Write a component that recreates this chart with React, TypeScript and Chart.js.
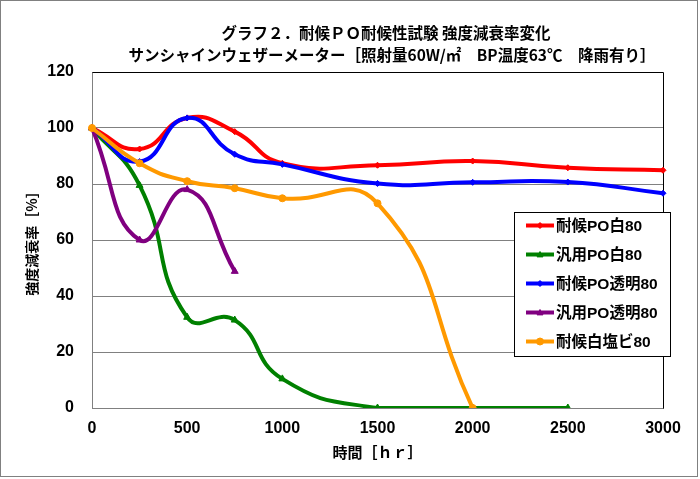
import React, { useEffect, useRef } from "react";
import { Chart, registerables } from "chart.js";

Chart.register(...registerables);

const titleLines = [
  "グラフ２．耐候ＰＯ耐候性試験 強度減衰率変化",
  "サンシャインウェザーメーター［照射量60W/㎡　BP温度63℃　降雨有り］",
];
const xAxisTitle = "時間［ｈｒ］";
const yAxisTitle = "強度減衰率［%］";

const seriesNames = ["耐候PO白80", "汎用PO白80", "耐候PO透明80", "汎用PO透明80", "耐候白塩ビ80"];
const seriesColors = ["#FF0000", "#008000", "#0000FF", "#800080", "#FF9900"];
const seriesMarkers = ["rectRot", "triangle", "rectRot", "triangle", "circle"];

const redHours = [0, 250, 500, 750, 1000, 1500, 2000, 2500, 3000];
const redValues = [100, 92.5, 103.6, 98.7, 87.4, 86.7, 88.2, 85.8, 84.9];
const greenHours = [0, 250, 500, 750, 1000, 1500, 2000, 2500];
const greenValues = [100, 79.5, 32.4, 31.4, 10.4, 0, 0, 0];
const blueHours = [0, 250, 500, 750, 1000, 1500, 2000, 2500, 3000];
const blueValues = [100, 88, 103.6, 90.6, 87, 80.2, 80.6, 80.7, 76.7];
const purpleHours = [0, 250, 500, 750];
const purpleValues = [100, 60, 78, 48.8];
const orangeHours = [0, 250, 500, 750, 1000, 1500, 2000];
const orangeValues = [100, 87.4, 81, 78.5, 74.9, 73.1, 0];

const xMin = 0;
const xMax = 3000;
const xStep = 500;
const yMin = 0;
const yMax = 120;
const yStep = 20;

const allHours = [redHours, greenHours, blueHours, purpleHours, orangeHours];
const allValues = [redValues, greenValues, blueValues, purpleValues, orangeValues];

const LATIN = "'Liberation Sans', 'Noto Sans CJK JP', sans-serif";
const CJK = "'Noto Sans CJK JP', sans-serif";

function drawMarker(ctx: CanvasRenderingContext2D, style: string, x: number, y: number, r: number, color: string) {
  ctx.save();
  ctx.fillStyle = color;
  ctx.strokeStyle = color;
  ctx.lineWidth = 1;
  ctx.beginPath();
  if (style === "circle") {
    ctx.arc(x, y, r, 0, Math.PI * 2);
  } else if (style === "triangle") {
    ctx.moveTo(x, y - r);
    ctx.lineTo(x + r, y + r * 0.8);
    ctx.lineTo(x - r, y + r * 0.8);
    ctx.closePath();
  } else {
    ctx.moveTo(x, y - r);
    ctx.lineTo(x + r, y);
    ctx.lineTo(x, y + r);
    ctx.lineTo(x - r, y);
    ctx.closePath();
  }
  ctx.fill();
  ctx.stroke();
  ctx.restore();
}

const decorPlugin = {
  id: "decor",
  beforeDraw(chart: any) {
    const { ctx, width, height } = chart;
    ctx.save();
    ctx.fillStyle = "#FFFFFF";
    ctx.fillRect(0, 0, width, height);
    ctx.strokeStyle = "#808080";
    ctx.lineWidth = 1;
    ctx.strokeRect(0.5, 0.5, width - 3, height - 3);
    ctx.fillStyle = "#000000";
    ctx.font = "bold 15.5px " + CJK;
    ctx.textAlign = "center";
    ctx.textBaseline = "middle";
    ctx.fillText(titleLines[0], 386, 33);
    ctx.fillText(titleLines[1], 392, 55);
    ctx.restore();
  },
  beforeDatasetsDraw(chart: any) {
    const { ctx, chartArea } = chart;
    ctx.save();
    ctx.strokeStyle = "#000000";
    ctx.lineWidth = 1;
    ctx.beginPath();
    ctx.moveTo(Math.round(chartArea.left) + 0.5, Math.round(chartArea.top) + 0.5);
    ctx.lineTo(Math.round(chartArea.right) + 0.5, Math.round(chartArea.top) + 0.5);
    ctx.lineTo(Math.round(chartArea.right) + 0.5, Math.round(chartArea.bottom) + 0.5);
    ctx.stroke();
    ctx.restore();
  },
  afterDraw(chart: any) {
    const { ctx } = chart;
    const bx = 514.5, by = 212.5, bw = 156, bh = 144;
    ctx.save();
    ctx.fillStyle = "#FFFFFF";
    ctx.fillRect(bx, by, bw, bh);
    ctx.strokeStyle = "#000000";
    ctx.lineWidth = 1;
    ctx.strokeRect(bx, by, bw, bh);
    seriesNames.forEach((name, i) => {
      const y = 225.5 + i * 29;
      ctx.strokeStyle = seriesColors[i];
      ctx.lineWidth = 4;
      ctx.beginPath();
      ctx.moveTo(526, y);
      ctx.lineTo(554, y);
      ctx.stroke();
      drawMarker(ctx, seriesMarkers[i], 540, y, seriesMarkers[i] === "circle" ? 3.5 : 3, seriesColors[i]);
      ctx.fillStyle = "#000000";
      ctx.font = "bold 15.5px " + LATIN;
      ctx.textAlign = "left";
      ctx.textBaseline = "middle";
      ctx.fillText(name, 556, y + 1);
    });
    ctx.restore();
  },
};

export default function App() {
  const ref = useRef<HTMLCanvasElement | null>(null);

  useEffect(() => {
    document.body.style.margin = "0";
    const canvas = ref.current;
    if (!canvas) return;
    const datasets = seriesNames.map((name, i) => ({
      label: name,
      data: allHours[i].map((h, j) => ({ x: h, y: allValues[i][j] })),
      borderColor: seriesColors[i],
      backgroundColor: seriesColors[i],
      borderWidth: 4,
      tension: 0.5,
      pointStyle: seriesMarkers[i] as any,
      pointRadius: seriesMarkers[i] === "circle" ? 3.5 : seriesMarkers[i] === "triangle" ? 4 : 3,
      pointBorderWidth: 1,
      pointBackgroundColor: seriesColors[i],
      pointBorderColor: seriesColors[i],
      fill: false,
      order: 10 - i,
      clip: { left: 10, top: 0, right: 10, bottom: 0 } as any,
    }));
    const chart = new Chart(canvas, {
      type: "line",
      data: { datasets },
      plugins: [decorPlugin],
      options: {
        animation: false,
        responsive: false,
        maintainAspectRatio: false,
        devicePixelRatio: 1,
        layout: { padding: { top: 72, right: 37, bottom: 0, left: 0 } },
        plugins: {
          legend: { display: false },
          title: { display: false },
          tooltip: { enabled: false },
        },
        scales: {
          x: {
            type: "linear",
            min: xMin,
            max: xMax,
            afterFit: (scale: any) => {
              scale.height = 71;
            },
            ticks: {
              stepSize: xStep,
              color: "#000000",
              padding: 11,
              maxRotation: 0,
              callback: (v: any) => String(v),
              font: { family: LATIN, size: 16, weight: "bold" },
            },
            grid: { display: false, drawTicks: false },
            border: { display: true, color: "#808080", width: 1 },
            title: {
              display: true,
              text: xAxisTitle,
              color: "#000000",
              font: { family: CJK, size: 15, weight: "bold" },
              padding: { top: 0, bottom: 18 },
            },
          },
          y: {
            type: "linear",
            min: yMin,
            max: yMax,
            afterFit: (scale: any) => {
              scale.width = 92;
            },
            ticks: {
              stepSize: yStep,
              color: "#000000",
              padding: 18,
              callback: (v: any) => String(v),
              font: { family: LATIN, size: 16, weight: "bold" },
            },
            grid: { color: "#808080", lineWidth: 1, drawTicks: false },
            border: { display: true, color: "#808080", width: 1 },
            title: {
              display: true,
              text: yAxisTitle,
              color: "#000000",
              font: { family: CJK, size: 14, weight: "bold" },
              padding: { top: 23, bottom: 0 },
            },
          },
        },
      },
    });
    return () => chart.destroy();
  }, []);

  return <canvas ref={ref} width={700} height={479} style={{ display: "block", width: "700px", height: "479px" }} />;
}
